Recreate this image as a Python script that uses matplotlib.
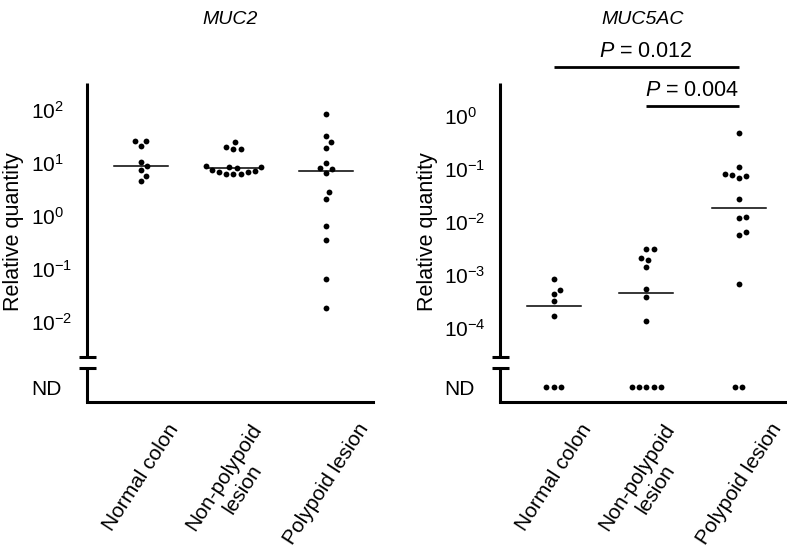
import numpy as np
import matplotlib.pyplot as plt

plt.rcParams['font.family'] = 'Liberation Sans'
plt.rcParams['mathtext.fontset'] = 'custom'
plt.rcParams['mathtext.rm'] = 'Liberation Sans'
plt.rcParams['mathtext.it'] = 'Liberation Sans:italic'

groups = ["Normal colon", "Non-polypoid\nlesion", "Polypoid lesion"]

# MUC2 relative quantity (all samples detected)
muc2_normal = [26, 26, 21, 10.5, 8.7, 7.3, 5.7, 4.6]
muc2_nonpolypoid = [24.6, 19.8, 18.4, 18.1, 8.7, 8.5, 8.4, 8.2, 7.4, 7.0, 6.7, 6.7, 6.2, 6.2, 6.2]
muc2_polypoid = [83, 33, 24.5, 19.5, 10.1, 7.9, 7.6, 6.6, 2.8, 2.1, 0.65, 0.35, 0.065, 0.018]
muc2_median = [8.7, 8.1, 7.2]

# MUC5AC relative quantity (ND = not detected, counted per group)
muc5ac_normal = [8.3e-4, 5.2e-4, 4.4e-4, 3.2e-4, 1.7e-4]
muc5ac_nonpolypoid = [3.1e-3, 3.1e-3, 2.1e-3, 1.9e-3, 1.4e-3, 5.4e-4, 3.8e-4, 1.37e-4]
muc5ac_polypoid = [0.47, 0.11, 0.079, 0.077, 0.074, 0.067, 0.027, 0.0126, 0.0117,
                   6.4e-3, 5.7e-3, 6.9e-4]
muc5ac_nd = [3, 5, 2]
muc5ac_median = [2.6e-4, 4.5e-4, 0.0186]

muc2_ticks = [-2, -1, 0, 1, 2]
muc5ac_ticks = [-4, -3, -2, -1, 0]

pvalues = [("0.012", 1, 3), ("0.004", 2, 3)]

fig = plt.figure(figsize=(7.87, 5.51), dpi=100)
W, H = 787, 551


def swarm_offsets(ax, xc, vals, d=7.0):
    # simple beeswarm in pixel space
    pts = ax.transData.transform(np.column_stack([np.full(len(vals), xc), vals]))
    ys = pts[:, 1]
    placed = []
    dx = np.zeros(len(vals))
    for i in np.argsort(ys):
        y = ys[i]
        cands = [0.0]
        for px, py in placed:
            dy = abs(y - py)
            if dy < d:
                h = np.sqrt(d * d - dy * dy)
                cands += [px + h, px - h]
        ok = [c for c in cands
              if all((c - px) ** 2 + (y - py) ** 2 >= d * d - 1e-6 for px, py in placed)]
        best = min(ok, key=abs)
        dx[i] = best
        placed.append((best, y))
    return dx


def panel(left_px, title, data, nd_counts, medians, ticks, ylim):
    ax = fig.add_axes([left_px / W, 1 - 402 / H, 286 / W, 319 / H])
    ax.set_yscale('log')
    ax.set_xlim(0.42, 3.51)
    ax.set_ylim(*ylim)
    ax.yaxis.set_minor_locator(plt.NullLocator())

    lo, hi = np.log10(ylim)
    nd_val = 10 ** (lo + 0.047 * (hi - lo))

    scale = ax.transData.transform((2, 1))[0] - ax.transData.transform((1, 1))[0]
    d = 7.3
    for i, vals in enumerate(data):
        xc = i + 1
        dx = swarm_offsets(ax, xc, vals, d) / scale
        ax.plot(xc + dx, vals, 'o', color='black', ms=4.2, mew=0, clip_on=False)
        n = nd_counts[i]
        if n:
            off = (np.arange(n) - (n - 1) / 2) * d / scale
            ax.plot(xc + off, [nd_val] * n, 'o', color='black', ms=4.2, mew=0, clip_on=False)
        ax.plot([xc - 0.29, xc + 0.29], [medians[i]] * 2, color='black', lw=1.1)

    ax.set_yticks([10.0 ** t for t in ticks] + [nd_val])
    ax.set_yticklabels([r'$\mathregular{10^{%d}}$' % t for t in ticks] + ['ND'])
    ax.tick_params(axis='y', length=0, pad=40, labelsize=15)
    for lbl in ax.get_yticklabels():
        lbl.set_horizontalalignment('left')

    ax.set_xticks([1, 2, 3])
    ax.set_xticklabels(groups, rotation=57, fontsize=15)
    ax.tick_params(axis='x', length=0, pad=13)

    ax.set_ylabel('Relative quantity', fontsize=15.5, labelpad=5)
    ax.yaxis.label.set_y(0.533)

    for s in ['top', 'right', 'left']:
        ax.spines[s].set_visible(False)
    ax.spines['bottom'].set_linewidth(2.2)
    ax.spines['bottom'].set_capstyle('projecting')

    # broken y axis
    kw = dict(transform=ax.transAxes, color='black', lw=2.2, clip_on=False,
              solid_capstyle='butt')
    b_up, b_lo = (402 - 357) / 319, (402 - 368) / 319
    ax.plot([0, 0], [b_up, 1], **kw)
    ax.plot([0, 0], [0, b_lo], **kw)
    ax.plot([-0.029, 0.033], [b_up, b_up], **kw)
    ax.plot([-0.029, 0.033], [b_lo, b_lo], **kw)

    ax.text(0.5, 1.2, title, style='italic', ha='center', va='center',
            fontsize=14, transform=ax.transAxes)
    return ax


ax1 = panel(87, 'MUC2', [muc2_normal, muc2_nonpolypoid, muc2_polypoid],
            [0, 0, 0], muc2_median, muc2_ticks, (10 ** -3.51, 10 ** 2.51))
ax2 = panel(500, 'MUC5AC', [muc5ac_normal, muc5ac_nonpolypoid, muc5ac_polypoid],
            muc5ac_nd, muc5ac_median, muc5ac_ticks, (10 ** -5.396, 10 ** 0.623))

# significance bars
trans = ax2.get_xaxis_transform()
for (p, a, b), ly, ty in zip(pvalues, [1.051, 0.928], [1.098, 0.978]):
    ax2.plot([a, b], [ly, ly], color='black', lw=2.0, transform=trans, clip_on=False,
             solid_capstyle='butt')
    ax2.text((a + b) / 2, ty, r'$\mathit{P}$ = ' + p, ha='center', va='center',
             fontsize=15.5, transform=trans)

fig.savefig('out.png', dpi=100)
